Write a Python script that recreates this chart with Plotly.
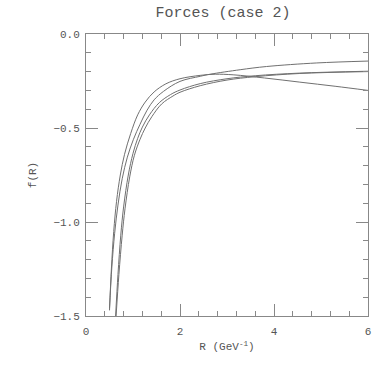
import plotly.graph_objects as go

# ---------- Data ----------

r_a = [0.50, 0.54, 0.59, 0.65, 0.73, 0.82, 0.95, 1.10, 1.26, 1.45, 1.70, 2.00, 2.43, 2.75, 3.13, 3.80, 4.55, 5.30, 6.00]
f_a = [-1.47, -1.25, -1.05, -0.89, -0.75, -0.64, -0.53, -0.43, -0.362, -0.308, -0.265, -0.238, -0.220, -0.214, -0.217, -0.234, -0.256, -0.278, -0.300]

r_b = [0.50, 0.55, 0.61, 0.68, 0.77, 0.88, 1.01, 1.15, 1.30, 1.45, 1.65, 2.00, 2.43, 2.64, 3.28, 3.84, 4.91, 6.00]
f_b = [-1.46, -1.24, -1.06, -0.91, -0.77, -0.655, -0.56, -0.48, -0.405, -0.350, -0.305, -0.252, -0.225, -0.214, -0.190, -0.173, -0.154, -0.144]

r_c = [0.63, 0.68, 0.74, 0.80, 0.90, 1.00, 1.10, 1.20, 1.35, 1.56, 1.80, 2.00, 2.43, 3.00, 3.60, 4.55, 6.00]
f_c = [-1.50, -1.28, -1.07, -0.92, -0.75, -0.635, -0.555, -0.495, -0.43, -0.365, -0.322, -0.298, -0.264, -0.238, -0.222, -0.208, -0.198]

r_d = [0.64, 0.70, 0.77, 0.83, 0.93, 1.03, 1.15, 1.26, 1.40, 1.61, 1.85, 2.00, 2.43, 3.00, 3.60, 4.55, 6.00]
f_d = [-1.50, -1.28, -1.07, -0.93, -0.76, -0.645, -0.56, -0.50, -0.44, -0.372, -0.330, -0.310, -0.275, -0.245, -0.227, -0.210, -0.200]

curves = [(r_a, f_a), (r_b, f_b), (r_c, f_c), (r_d, f_d)]

# ---------- Plotting ----------

FONT = "Liberation Mono"
TXT = '#555555'
AX = '#888888'

fig = go.Figure()
for rr, ff in curves:
    fig.add_trace(go.Scatter(
        x=rr, y=ff, mode='lines', line_shape='spline',
        line=dict(color='#707070', width=1), showlegend=False, hoverinfo='skip'
    ))

axis_common = dict(
    showgrid=False, zeroline=False, showline=True, linecolor=AX, linewidth=1,
    mirror='allticks', ticks='inside', ticklen=12, tickcolor=AX,
    tickfont=dict(family=FONT, size=11, color=TXT),
)

fig.update_layout(
    title=dict(text='Forces (case 2)', x=0.575, xanchor='center', y=0.969, yanchor='middle',
               font=dict(family=FONT, size=15, color=TXT)),
    xaxis=dict(range=[0, 6], tickvals=[0, 2, 4, 6], ticktext=['0', '2', '4', '6'],
               ticklabelstandoff=5,
               minor=dict(dtick=0.4, tick0=0, ticks='inside', ticklen=5, tickcolor=AX),
               title=dict(text='R (GeV<sup>-1</sup>)', standoff=5,
                          font=dict(family=FONT, size=11, color=TXT)),
               **axis_common),
    yaxis=dict(range=[-1.5, 0], tickvals=[0, -0.5, -1.0, -1.5], tickformat='.1f',
               ticklabelstandoff=3,
               minor=dict(dtick=0.1, tick0=0, ticks='inside', ticklen=5, tickcolor=AX),
               title=dict(text='f(R)', standoff=14,
                          font=dict(family=FONT, size=11, color=TXT)),
               **axis_common),
    margin=dict(l=86, r=20, t=34, b=72),
    width=388, height=388,
    paper_bgcolor='white', plot_bgcolor='white',
)

fig.write_html("out.html", config={'displayModeBar': False},
               post_script="document.body.style.margin='0';")
